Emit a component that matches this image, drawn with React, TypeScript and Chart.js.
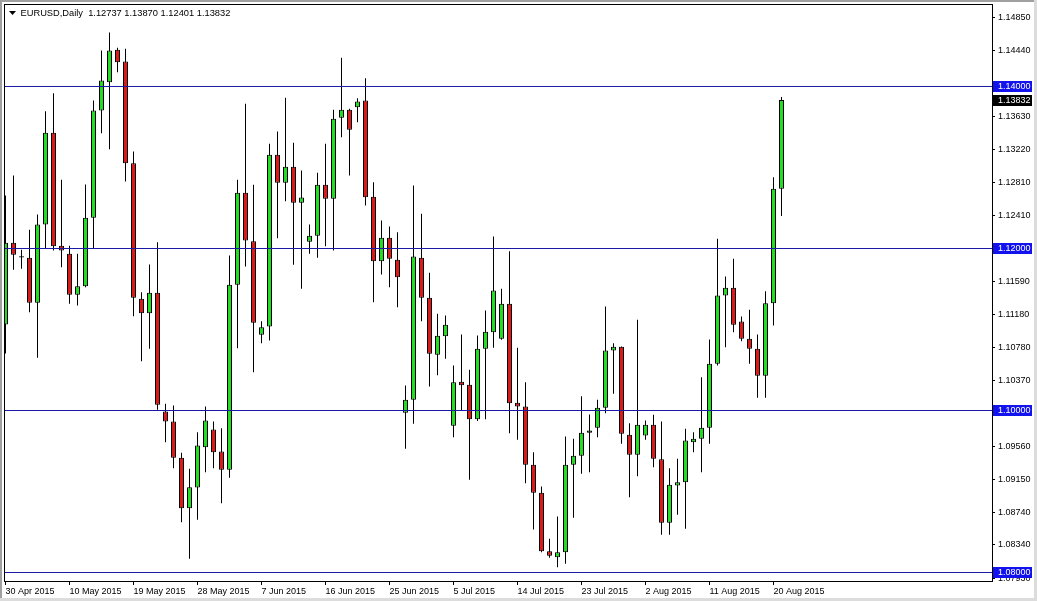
import { useEffect, useRef } from 'react';
import { Chart, registerables } from 'chart.js';

Chart.register(...registerables);

const symbolName = 'EURUSD,Daily';

const dates = [
  '30 Apr 2015',
  '1 May 2015', '3 May 2015', '4 May 2015', '5 May 2015', '6 May 2015', '7 May 2015', '8 May 2015',
  '10 May 2015', '11 May 2015', '12 May 2015', '13 May 2015', '14 May 2015', '15 May 2015',
  '17 May 2015', '18 May 2015', '19 May 2015', '20 May 2015', '21 May 2015', '22 May 2015',
  '24 May 2015', '25 May 2015', '26 May 2015', '27 May 2015', '28 May 2015', '29 May 2015', '31 May 2015',
  '1 Jun 2015', '2 Jun 2015', '3 Jun 2015', '4 Jun 2015', '5 Jun 2015',
  '7 Jun 2015', '8 Jun 2015', '9 Jun 2015', '10 Jun 2015', '11 Jun 2015', '12 Jun 2015',
  '14 Jun 2015', '15 Jun 2015', '16 Jun 2015', '17 Jun 2015', '18 Jun 2015', '19 Jun 2015',
  '21 Jun 2015', '22 Jun 2015', '23 Jun 2015', '24 Jun 2015', '25 Jun 2015', '26 Jun 2015',
  '28 Jun 2015', '29 Jun 2015', '30 Jun 2015',
  '1 Jul 2015', '2 Jul 2015', '3 Jul 2015',
  '5 Jul 2015', '6 Jul 2015', '7 Jul 2015', '8 Jul 2015', '9 Jul 2015', '10 Jul 2015',
  '12 Jul 2015', '13 Jul 2015', '14 Jul 2015', '15 Jul 2015', '16 Jul 2015', '17 Jul 2015',
  '19 Jul 2015', '20 Jul 2015', '21 Jul 2015', '22 Jul 2015', '23 Jul 2015', '24 Jul 2015',
  '26 Jul 2015', '27 Jul 2015', '28 Jul 2015', '29 Jul 2015', '30 Jul 2015', '31 Jul 2015',
  '2 Aug 2015', '3 Aug 2015', '4 Aug 2015', '5 Aug 2015', '6 Aug 2015', '7 Aug 2015',
  '9 Aug 2015', '10 Aug 2015', '11 Aug 2015', '12 Aug 2015', '13 Aug 2015', '14 Aug 2015',
  '16 Aug 2015', '17 Aug 2015', '18 Aug 2015', '19 Aug 2015', '20 Aug 2015', '21 Aug 2015',
];

const opens = [
  1.11062, 1.12070, 1.11905, 1.11885, 1.11330, 1.12296, 1.13428, 1.12033, 1.11935, 1.11428,
  1.11535, 1.12379, 1.13704, 1.14053, 1.14453, 1.14309, 1.13053, 1.11379, 1.11201, 1.11453,
  1.09988, 1.09864, 1.09416, 1.08794, 1.09050, 1.09547, 1.09765, 1.09494, 1.09268, 1.11552,
  1.12688, 1.12090, 1.10935, 1.11037, 1.13157, 1.12811, 1.13009, 1.12564, 1.12083, 1.12157,
  1.12786, 1.12614, 1.13614, 1.13712, 1.13744, 1.13827, 1.12640, 1.11843, 1.12132, 1.11860,
  1.09972, 1.10132, 1.11885, 1.11391, 1.10688, 1.10917, 1.09811, 1.10354, 1.10317, 1.09893,
  1.10762, 1.10967, 1.10885, 1.11317, 1.10095, 1.10049, 1.09330, 1.08984, 1.08263, 1.08189,
  1.08251, 1.09330, 1.09441, 1.09725, 1.09786, 1.10033, 1.10741, 1.10786, 1.09700, 1.09453,
  1.09691, 1.09823, 1.09399, 1.08613, 1.09074, 1.09115, 1.09609, 1.09650, 1.09786, 1.10577,
  1.11420, 1.11515, 1.11099, 1.10885, 1.10762, 1.10428, 1.11325, 1.12737,
];

const highs = [
  1.12654, 1.12901, 1.11984, 1.12231, 1.12420, 1.13695, 1.13917, 1.12848, 1.12033, 1.11935,
  1.12790, 1.13827, 1.14444, 1.14667, 1.14478, 1.14465, 1.13198, 1.11460, 1.11802, 1.12078,
  1.10083, 1.10062, 1.09478, 1.09280, 1.09732, 1.10049, 1.09864, 1.09781, 1.11914, 1.12848,
  1.13786, 1.12786, 1.11102, 1.13293, 1.13444, 1.13861, 1.13305, 1.12963, 1.12296, 1.12935,
  1.13293, 1.13712, 1.14354, 1.13725, 1.13856, 1.14102, 1.12818, 1.12346, 1.12272, 1.12201,
  1.10309, 1.12778, 1.12428, 1.11700, 1.11194, 1.11173, 1.10556, 1.10938, 1.10502, 1.10926,
  1.11235, 1.12148, 1.11502, 1.11967, 1.10774, 1.10349, 1.09485, 1.09062, 1.08416, 1.08691,
  1.09679, 1.09650, 1.10176, 1.09950, 1.10132, 1.11284, 1.10831, 1.10790, 1.09843, 1.11120,
  1.09876, 1.09947, 1.09864, 1.09288, 1.09404, 1.09774, 1.09732, 1.10411, 1.10876, 1.12120,
  1.11654, 1.11873, 1.11160, 1.11243, 1.10938, 1.11473, 1.12880, 1.13870,
];

const lows = [
  1.10704, 1.11737, 1.11749, 1.11214, 1.10651, 1.11996, 1.11975, 1.11769, 1.11317, 1.11296,
  1.11522, 1.11996, 1.13423, 1.13226, 1.14177, 1.12827, 1.11164, 1.10609, 1.10762, 1.10009,
  1.09609, 1.09288, 1.08621, 1.08169, 1.08650, 1.09238, 1.09288, 1.08855, 1.09169, 1.10769,
  1.11778, 1.10473, 1.10831, 1.10864, 1.12127, 1.12584, 1.11799, 1.11502, 1.11935, 1.11885,
  1.12028, 1.11975, 1.13374, 1.12901, 1.13559, 1.12531, 1.11337, 1.11679, 1.11522, 1.11275,
  1.09527, 1.09836, 1.11102, 1.10296, 1.10436, 1.10638, 1.09670, 1.10000, 1.09144, 1.09870,
  1.09893, 1.10774, 1.10873, 1.09720, 1.09638, 1.09102, 1.08531, 1.08251, 1.08181, 1.08065,
  1.08107, 1.08675, 1.09218, 1.09238, 1.09670, 1.09967, 1.10206, 1.09589, 1.08930, 1.09189,
  1.09638, 1.09300, 1.08465, 1.08465, 1.08712, 1.08539, 1.09485, 1.09238, 1.09589, 1.10556,
  1.10781, 1.10967, 1.10856, 1.10577, 1.10157, 1.10157, 1.11049, 1.12401,
];

const closes = [
  1.12070, 1.11922, 1.11890, 1.11330, 1.12296, 1.13428, 1.12028, 1.11975, 1.11428, 1.11535,
  1.12379, 1.13704, 1.14074, 1.14444, 1.14300, 1.13053, 1.11391, 1.11201, 1.11453, 1.10070,
  1.09864, 1.09416, 1.08794, 1.09053, 1.09568, 1.09876, 1.09485, 1.09268, 1.11552, 1.12688,
  1.12099, 1.11083, 1.11028, 1.13157, 1.12811, 1.13009, 1.12564, 1.12630, 1.12157, 1.12786,
  1.12614, 1.13601, 1.13712, 1.13465, 1.13815, 1.12633, 1.11843, 1.12132, 1.11873, 1.11646,
  1.10132, 1.11901, 1.11391, 1.10700, 1.10922, 1.11058, 1.10349, 1.10312, 1.09893, 1.10762,
  1.10972, 1.11481, 1.11317, 1.10090, 1.10049, 1.09330, 1.08984, 1.08263, 1.08206, 1.08251,
  1.09330, 1.09441, 1.09725, 1.09753, 1.10033, 1.10741, 1.10786, 1.09712, 1.09453, 1.09823,
  1.09823, 1.09404, 1.08613, 1.09083, 1.09115, 1.09630, 1.09650, 1.09786, 1.10577, 1.11420,
  1.11515, 1.11058, 1.10885, 1.10762, 1.10428, 1.11325, 1.12737, 1.13832,
];

const priceTicks = [
  1.1485, 1.1444, 1.1403, 1.1363, 1.1322, 1.1281, 1.1241, 1.12, 1.1159,
  1.1118, 1.1078, 1.1037, 1.0996, 1.0956, 1.0915, 1.0874, 1.0834, 1.0793,
];

const dateTickIndex = [0, 8, 16, 24, 32, 40, 48, 56, 64, 72, 80, 88, 96];

const levelLines = [1.14, 1.12, 1.1, 1.08];

const W = 1037;
const H = 601;
const FONT = '"Liberation Sans", Arial, sans-serif';
const BULL = '#22dd22';
const BEAR = '#dc1a1a';
const LINE_COLOR = '#1a1aa6';
const BOX_COLOR = '#1212ee';

export default function App() {
  const ref = useRef<HTMLCanvasElement | null>(null);

  useEffect(() => {
    const canvas = ref.current;
    if (!canvas) return;

    const bodies = closes.map((c, i) => ({ x: i, y: [opens[i], c] }));
    const wicks = closes.map((_, i) => ({ x: i, y: [lows[i], highs[i]] }));
    const bodyColors = closes.map((c, i) => (c >= opens[i] ? BULL : BEAR));
    const last = closes.length - 1;

    const overlay = {
      id: 'overlay',
      afterDraw(chart: any) {
        const ctx = chart.ctx as CanvasRenderingContext2D;
        const area = chart.chartArea;
        const ys = chart.scales.y;
        ctx.save();
        // plot frame
        ctx.strokeStyle = '#000';
        ctx.lineWidth = 1;
        ctx.strokeRect(area.left + 0.5, area.top + 0.5, area.right - area.left, area.bottom - area.top);
        // level boxes on price axis
        ctx.font = '9px ' + FONT;
        ctx.textBaseline = 'middle';
        ctx.textAlign = 'left';
        const drawBox = (value: number, color: string) => {
          const py = Math.floor(ys.getPixelForValue(value));
          ctx.fillStyle = color;
          ctx.fillRect(area.right + 1, py - 5, 39, 11);
          ctx.fillStyle = '#fff';
          ctx.fillText(value.toFixed(5), area.right + 6, py + 0.5);
        };
        levelLines.forEach((l) => drawBox(l, BOX_COLOR));
        drawBox(closes[last], '#000');
        // header
        ctx.fillStyle = '#000';
        ctx.beginPath();
        ctx.moveTo(9, 11);
        ctx.lineTo(16, 11);
        ctx.lineTo(12.5, 15);
        ctx.closePath();
        ctx.fill();
        ctx.textBaseline = 'alphabetic';
        ctx.font = '9.3px ' + FONT;
        const header =
          symbolName + '  ' +
          [opens[last], highs[last], lows[last], closes[last]].map((v) => v.toFixed(5)).join(' ');
        ctx.fillText(header, 20.5, 16);
        // window frame
        ctx.fillStyle = '#a0a0a0';
        ctx.fillRect(0, 0, W, 2);
        ctx.fillRect(0, 0, 2, H);
        ctx.fillStyle = '#dcdcdc';
        ctx.fillRect(W - 3, 0, 3, H);
        ctx.fillRect(0, H - 3, W, 3);
        ctx.restore();
      },
    };

    const chart = new Chart(canvas, {
      type: 'bar',
      data: {
        datasets: [
          ...levelLines.map((l) => ({
            type: 'line' as const,
            data: [
              { x: -5, y: l },
              { x: 200, y: l },
            ],
            borderColor: LINE_COLOR,
            borderWidth: 1,
            pointRadius: 0,
            order: -1,
            clip: 0,
          })),
          {
            type: 'bar' as const,
            data: bodies as any,
            backgroundColor: bodyColors,
            borderColor: '#000',
            borderWidth: 1,
            borderSkipped: false,
            inflateAmount: 0,
            barThickness: 5,
            grouped: false,
            order: 0,
            clip: 0,
          },
          {
            type: 'bar' as const,
            data: wicks as any,
            backgroundColor: '#000',
            borderWidth: 0,
            borderSkipped: false,
            inflateAmount: 0,
            barThickness: 1,
            grouped: false,
            order: 1,
            clip: 0,
          },
        ] as any,
      },
      options: {
        animation: false,
        responsive: false,
        maintainAspectRatio: false,
        events: [],
        layout: { padding: { left: 4, top: 4, right: 0, bottom: 0 } },
        plugins: {
          legend: { display: false },
          tooltip: { enabled: false },
          title: { display: false },
        },
        scales: {
          x: {
            type: 'linear',
            position: 'bottom',
            min: -0.1875,
            max: 123.3125,
            bounds: 'data',
            offset: false,
            border: { display: false },
            grid: {
              display: true,
              drawOnChartArea: false,
              drawTicks: true,
              tickLength: 4,
              tickColor: '#000',
              offset: false,
            },
            ticks: {
              autoSkip: false,
              maxRotation: 0,
              minRotation: 0,
              align: 'start',
              padding: 1,
              color: '#000',
              font: { family: FONT, size: 9 },
              callback: (v: any) => dates[Math.round(Number(v))] ?? '',
            },
            afterBuildTicks: (scale: any) => {
              scale.ticks = dateTickIndex.map((v) => ({ value: v }));
            },
            afterFit: (scale: any) => {
              scale.height = 20;
              scale.paddingLeft = 0;
              scale.paddingRight = 0;
            },
          },
          y: {
            type: 'linear',
            position: 'right',
            min: 1.078951,
            max: 1.150185,
            bounds: 'data',
            beginAtZero: false,
            border: { display: false },
            grid: {
              display: true,
              drawOnChartArea: false,
              drawTicks: true,
              tickLength: 3,
              tickColor: '#000',
            },
            ticks: {
              padding: 3,
              color: '#000',
              font: { family: FONT, size: 9 },
              callback: (v: any) => Number(v).toFixed(5),
            },
            afterBuildTicks: (scale: any) => {
              scale.ticks = priceTicks.map((v) => ({ value: v }));
            },
            afterFit: (scale: any) => {
              scale.width = 45;
              scale.paddingTop = 0;
              scale.paddingBottom = 0;
            },
          },
        },
      } as any,
      plugins: [overlay],
    });

    return () => chart.destroy();
  }, []);

  return (
    <div style={{ position: 'fixed', left: 0, top: 0, width: W, height: H, background: '#fff' }}>
      <canvas ref={ref} width={W} height={H} style={{ display: 'block', width: W, height: H }} />
    </div>
  );
}
